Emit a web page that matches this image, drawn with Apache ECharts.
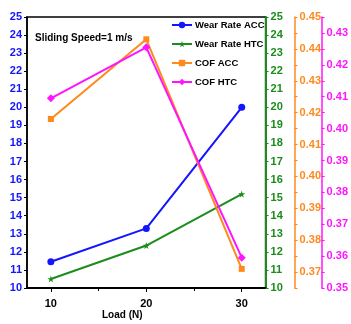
<!DOCTYPE html>
<html>
<head>
<meta charset="utf-8">
<script src="https://cdn.jsdelivr.net/npm/echarts@6/dist/echarts.min.js"></script>
<style>html,body{margin:0;padding:0;background:#fff}#c{width:351px;height:324px}</style>
</head>
<body>
<div id="c"></div>
<script>
var loads = [10, 20, 30];
var wearRateACC = [11.45, 13.3, 20.0];
var wearRateHTC = [10.5, 12.35, 15.2];
var cofACC = [0.418, 0.443, 0.371];
var cofHTC = [0.4095, 0.4255, 0.3595];
var seriesNames = ['Wear Rate ACC', 'Wear Rate HTC', 'COF ACC', 'COF HTC'];
var wearTicks = [10, 25];
var cofACCRange = [0.365, 0.45];
var cofHTCRange = [0.35, 0.435];
var xRange = [7.5, 32.5];

var FONT = 'Liberation Sans';
var BLUE = '#1414ff', GREEN = '#1c8c1c', ORANGE = '#ff8a1c', MAGENTA = '#ff14ff';
var STAR = 'path://M50,0 L61,35 L98,35 L68,57 L79,91 L50,70 L21,91 L32,57 L2,35 L39,35 Z';

function pairs(ys){ return loads.map(function(x,i){ return [x, ys[i]]; }); }
function cofFmt(v){ var k = Math.round(v*1000); return k % 10 === 0 ? (k/1000).toFixed(2) : ''; }

var chart = echarts.init(document.getElementById('c'), null, {renderer:'canvas'});
chart.setOption({
  animation: false,
  backgroundColor: '#fff',
  grid: {left: 27, right: 79, top: 17, bottom: 36, show: true, borderColor: '#000', borderWidth: 1.5, backgroundColor: 'transparent'},
  legend: {
    orient: 'vertical', left: 166, top: 15, itemWidth: 20, itemHeight: 8, itemGap: 9,
    data: seriesNames,
    textStyle: {fontFamily: FONT, fontWeight: 'bold', fontSize: 9.5, color: '#000', padding: [0, 0, 0, -2]}
  },
  graphic: [
    {type: 'text', left: 35, top: 33, style: {text: 'Sliding Speed=1 m/s', font: 'bold 10px "' + FONT + '"', fill: '#000'}},
    {type: 'text', left: 102, top: 310, style: {text: 'Load (N)', font: 'bold 10px "' + FONT + '"', fill: '#000'}}
  ],
  xAxis: [{
    type: 'value', min: xRange[0], max: xRange[1],
    axisLine: {show: true, lineStyle: {color: '#000', width: 2}},
    axisTick: {show: true, customValues: loads, length: 4, lineStyle: {color: '#000', width: 1}},
    axisLabel: {customValues: loads, margin: 10, fontFamily: FONT, fontWeight: 'bold', fontSize: 11, color: '#000'},
    splitLine: {show: false}
  }, {
    type: 'value', min: xRange[0], max: xRange[1], position: 'bottom',
    axisLine: {show: false},
    axisTick: {show: true, customValues: [15, 25], length: 3, lineStyle: {color: '#000', width: 1}},
    axisLabel: {show: false}, splitLine: {show: false}
  }],
  yAxis: [{
    type: 'value', position: 'left', min: wearTicks[0], max: wearTicks[1], interval: 1,
    axisLine: {show: true, lineStyle: {color: '#000', width: 1.5}},
    axisTick: {show: true, length: 3, lineStyle: {color: '#000'}},
    axisLabel: {margin: 5, fontFamily: FONT, fontWeight: 'bold', fontSize: 11, color: BLUE},
    splitLine: {show: false}
  }, {
    type: 'value', position: 'right', offset: 0, min: wearTicks[0], max: wearTicks[1], interval: 1,
    axisLine: {show: true, lineStyle: {color: GREEN, width: 2}},
    axisTick: {show: true, length: 3, lineStyle: {color: GREEN}},
    axisLabel: {margin: 5, fontFamily: FONT, fontWeight: 'bold', fontSize: 11, color: GREEN},
    splitLine: {show: false}
  }, {
    type: 'value', position: 'right', offset: 29, min: cofACCRange[0], max: cofACCRange[1], interval: 0.005,
    axisLine: {show: true, lineStyle: {color: ORANGE, width: 1.5}},
    axisTick: {show: true, length: 3, lineStyle: {color: ORANGE}},
    axisLabel: {margin: 5, formatter: cofFmt, fontFamily: FONT, fontWeight: 'bold', fontSize: 11, color: ORANGE},
    splitLine: {show: false}
  }, {
    type: 'value', position: 'right', offset: 56, min: cofHTCRange[0], max: cofHTCRange[1], interval: 0.005,
    axisLine: {show: true, lineStyle: {color: MAGENTA, width: 1.5}},
    axisTick: {show: true, length: 3, lineStyle: {color: MAGENTA}},
    axisLabel: {margin: 5, formatter: cofFmt, fontFamily: FONT, fontWeight: 'bold', fontSize: 11, color: MAGENTA},
    splitLine: {show: false}
  }],
  series: [
    {name: seriesNames[0], type: 'line', yAxisIndex: 0, data: pairs(wearRateACC), color: BLUE,
     symbol: 'circle', symbolSize: 7, lineStyle: {width: 2}},
    {name: seriesNames[1], type: 'line', yAxisIndex: 1, data: pairs(wearRateHTC), color: GREEN,
     symbol: STAR, symbolSize: 7, lineStyle: {width: 2}},
    {name: seriesNames[2], type: 'line', yAxisIndex: 2, data: pairs(cofACC), color: ORANGE,
     symbol: 'rect', symbolSize: 6, lineStyle: {width: 2}},
    {name: seriesNames[3], type: 'line', yAxisIndex: 3, data: pairs(cofHTC), color: MAGENTA,
     symbol: 'diamond', symbolSize: 8, lineStyle: {width: 2}}
  ]
});
</script>
</body>
</html>
